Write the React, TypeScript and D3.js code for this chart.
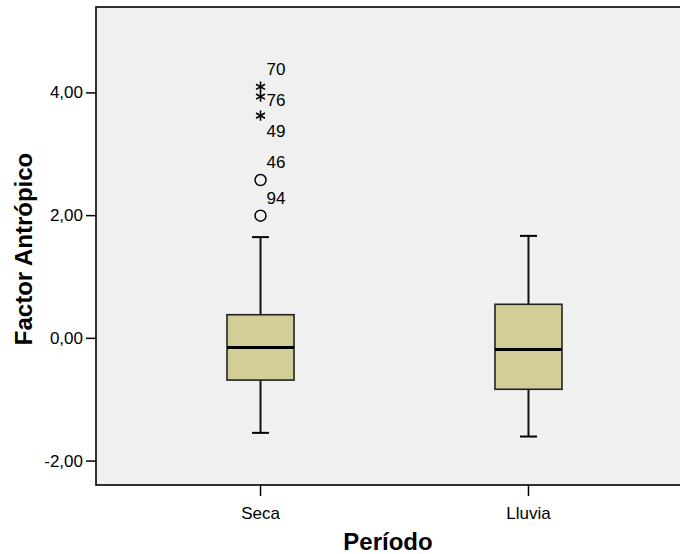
import React from "react";
import * as d3 from "d3";

// categorías y estadísticos de cada caja
const categories = ["Seca", "Lluvia"];
const whiskerLow = [-1.54, -1.6];
const q1 = [-0.68, -0.83];
const median = [-0.15, -0.18];
const q3 = [0.385, 0.555];
const whiskerHigh = [1.65, 1.67];

// valores atípicos (solo en Seca)
const outlierGroup = ["Seca", "Seca", "Seca", "Seca", "Seca"];
const outlierIds = ["70", "76", "49", "46", "94"];
const outlierValues = [4.1, 3.94, 3.63, 2.58, 2.0];
const outlierKinds = ["extreme", "extreme", "extreme", "mild", "mild"];

const yTicks = [-2, 0, 2, 4];

const W = 680;
const H = 554;
const left = 96;
const right = 693;
const top = 7;
const bottom = 485;

const font = "'Liberation Sans', Arial, sans-serif";
// formato SPSS: coma decimal y guion normal
const fmt = (v: number) =>
  d3.format(".2f")(v).replace(".", ",").replace("\u2212", "-");

export default function App() {
  const x = d3
    .scalePoint<string>()
    .domain(categories)
    .range([left, right])
    .padding(0.614);
  const y = d3.scaleLinear().domain([-2.39, 5.4]).range([bottom, top]);

  const boxW = 67;
  const capW = 17;

  const star = d3.symbol().type(d3.symbolAsterisk).size(75)();

  // etiquetas de atípicos: arriba del punto, bajando si chocan
  const outliers = outlierValues
    .map((v, i) => ({
      v,
      id: outlierIds[i],
      kind: outlierKinds[i],
      g: outlierGroup[i],
    }))
    .sort((a, b) => b.v - a.v);
  let prevLabel = -Infinity;
  const labelled = outliers.map((o) => {
    const py = y(o.v);
    let ly = py - 17.5;
    if (ly < prevLabel + 31) ly = prevLabel + 31;
    prevLabel = ly;
    return { ...o, py, ly };
  });

  return (
    <svg
      width={W}
      height={H}
      style={{ position: "absolute", left: 0, top: 0, display: "block" }}
      fontFamily={font}
    >
      <rect width={W} height={H} fill="#ffffff" />
      <rect
        x={left}
        y={top}
        width={right - left}
        height={bottom - top}
        fill="#f0f0f0"
        stroke="#000"
        strokeWidth={1.6}
      />

      {/* eje y */}
      {yTicks.map((t) => (
        <g key={t}>
          <line x1={left - 10} x2={left} y1={y(t)} y2={y(t)} stroke="#000" strokeWidth={1.5} />
          <text
            x={left - 13}
            y={y(t)}
            textAnchor="end"
            dominantBaseline="central"
            fontSize={17}
            fill="#000"
          >
            {fmt(t)}
          </text>
        </g>
      ))}

      {/* eje x */}
      {categories.map((c) => (
        <g key={c}>
          <line
            x1={x(c)!}
            x2={x(c)!}
            y1={bottom}
            y2={bottom + 11}
            stroke="#000"
            strokeWidth={1.5}
          />
          <text x={x(c)!} y={bottom + 28} textAnchor="middle" dominantBaseline="central" fontSize={17}>
            {c}
          </text>
        </g>
      ))}

      <text
        x={(left + 680) / 2}
        y={541}
        textAnchor="middle"
        dominantBaseline="central"
        fontSize={24}
        fontWeight="bold"
      >
        Período
      </text>
      <text
        transform={`translate(23, 249) rotate(-90)`}
        textAnchor="middle"
        dominantBaseline="central"
        fontSize={24}
        fontWeight="bold"
      >
        Factor Antrópico
      </text>

      {/* cajas */}
      {categories.map((c, i) => {
        const cx = x(c)!;
        return (
          <g key={c}>
            <line x1={cx} x2={cx} y1={y(whiskerHigh[i])} y2={y(q3[i])} stroke="#111" strokeWidth={2} />
            <line x1={cx} x2={cx} y1={y(q1[i])} y2={y(whiskerLow[i])} stroke="#111" strokeWidth={2} />
            <line
              x1={cx - capW / 2}
              x2={cx + capW / 2}
              y1={y(whiskerHigh[i])}
              y2={y(whiskerHigh[i])}
              stroke="#000"
              strokeWidth={2}
            />
            <line
              x1={cx - capW / 2}
              x2={cx + capW / 2}
              y1={y(whiskerLow[i])}
              y2={y(whiskerLow[i])}
              stroke="#000"
              strokeWidth={2}
            />
            <rect
              x={cx - boxW / 2}
              y={y(q3[i])}
              width={boxW}
              height={y(q1[i]) - y(q3[i])}
              fill="#d3ce97"
              stroke="#222"
              strokeWidth={1.6}
            />
            <line
              x1={cx - boxW / 2}
              x2={cx + boxW / 2}
              y1={y(median[i])}
              y2={y(median[i])}
              stroke="#000"
              strokeWidth={3}
            />
          </g>
        );
      })}

      {/* atípicos */}
      {labelled.map((o) => {
        const cx = x(o.g)!;
        return (
          <g key={o.id}>
            {o.kind === "extreme" ? (
              <path d={star!} transform={`translate(${cx},${o.py})`} fill="none" stroke="#000" strokeWidth={1.6} />
            ) : (
              <circle cx={cx} cy={o.py} r={5.5} fill="none" stroke="#000" strokeWidth={1.5} />
            )}
            <text x={cx + 6} y={o.ly} dominantBaseline="central" fontSize={17} fill="#000">
              {o.id}
            </text>
          </g>
        );
      })}
    </svg>
  );
}
